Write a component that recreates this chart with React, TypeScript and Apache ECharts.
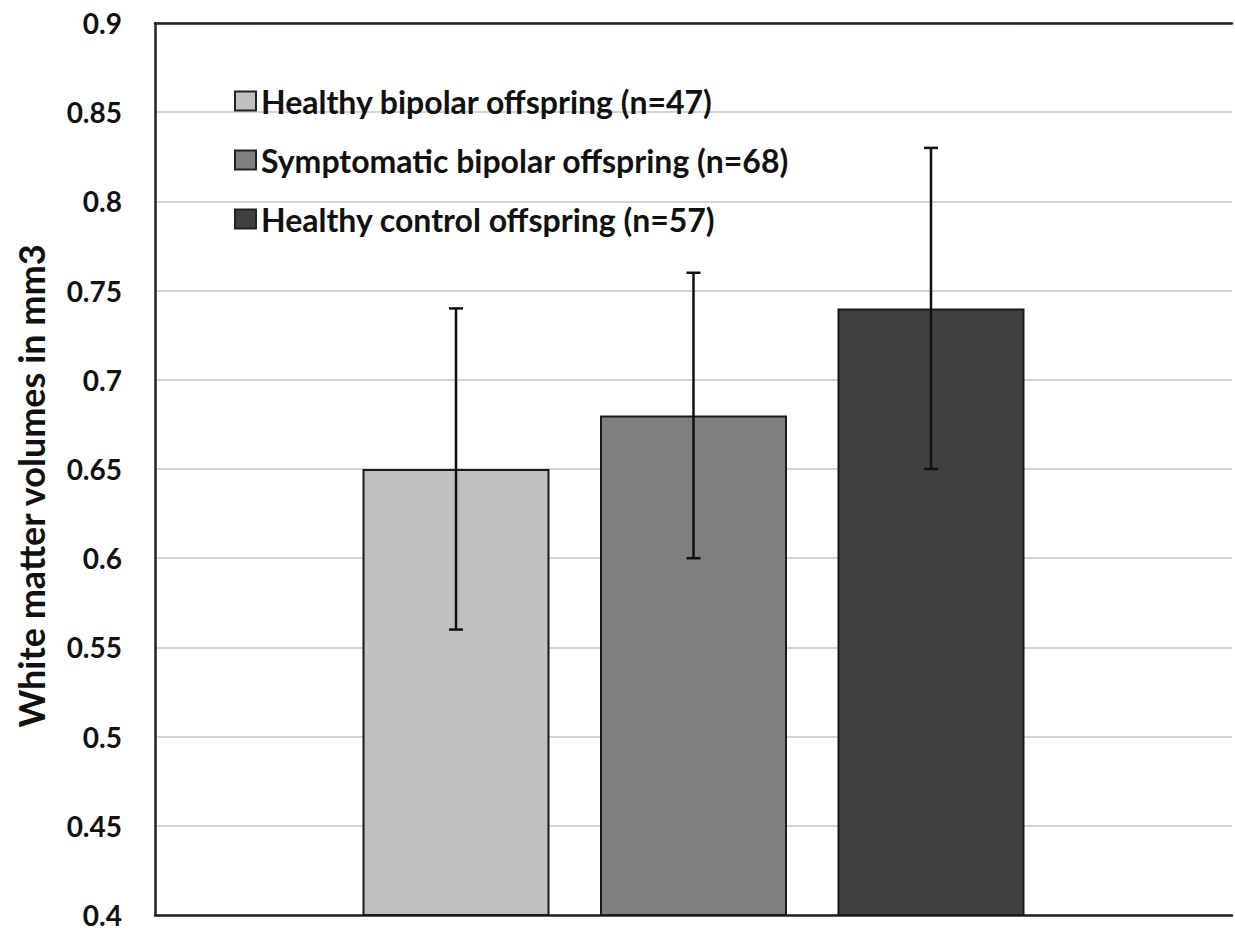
import React, { useEffect, useRef } from "react";
import * as echarts from "echarts";

const seriesNames = [
  "Healthy bipolar offspring (n=47)",
  "Symptomatic bipolar offspring (n=68)",
  "Healthy control offspring (n=57)",
];
const means = [0.65, 0.68, 0.74];
const errLow = [0.56, 0.6, 0.65];
const errHigh = [0.74, 0.76, 0.83];
const colors = ["#c0c0c0", "#7f7f7f", "#404040"];
const categories = [""];

const FONT = "Lato";
const BAR_WIDTH = 187;
const BAR_GAP = "27%";

export default function App() {
  const ref = useRef<HTMLDivElement>(null);
  useEffect(() => {
    if (!ref.current) return;
    const chart = echarts.init(ref.current, null, { renderer: "svg" });
    const barSeries = seriesNames.map((name, i) => ({
      name,
      type: "bar",
      data: [means[i]],
      barWidth: BAR_WIDTH,
      barGap: BAR_GAP,
      itemStyle: { color: colors[i], borderColor: "#1a1a1a", borderWidth: 2 },
      emphasis: { disabled: true },
    }));
    const errData = seriesNames.map((_, i) => [0, i, errLow[i], errHigh[i]]);
    const option = {
      animation: false,
      backgroundColor: "#ffffff",
      textStyle: { fontFamily: FONT },
      grid: { left: 155, right: 3, top: 23, bottom: 16, containLabel: false },
      legend: {
        orient: "vertical",
        left: 229,
        top: 80,
        itemWidth: 21,
        itemHeight: 19,
        itemGap: 27,
        icon: "rect",
        itemStyle: { borderColor: "#222", borderWidth: 2 },
        textStyle: { fontFamily: FONT, fontWeight: "bold", fontSize: 32, color: "#111" },
        data: seriesNames,
      },
      xAxis: [
        {
          type: "category",
          data: categories,
          axisLine: { show: true, lineStyle: { color: "#222", width: 2.5 } },
          axisTick: { show: false },
          axisLabel: { show: false },
        },
        {
          type: "category",
          data: categories,
          position: "top",
          axisLine: { show: true, lineStyle: { color: "#222", width: 2.5 } },
          axisTick: { show: false },
          axisLabel: { show: false },
        },
      ],
      yAxis: {
        type: "value",
        min: 0.4,
        max: 0.9,
        interval: 0.05,
        name: "White matter volumes in mm3",
        nameLocation: "middle",
        nameGap: 106,
        nameRotate: 90,
        nameTextStyle: {
          fontFamily: FONT,
          fontWeight: "bold",
          fontSize: 36,
          color: "#111",
          padding: [0, 34, 0, 0],
        },
        axisLine: { show: true, lineStyle: { color: "#222", width: 2.5 } },
        axisTick: { show: false },
        axisLabel: {
          fontFamily: FONT,
          fontWeight: "bold",
          fontSize: 28,
          color: "#111",
          margin: 33,
          formatter: (v: number) => String(parseFloat(v.toFixed(2))),
        },
        splitLine: { show: true, lineStyle: { color: "#d4d4d4", width: 2 } },
      },
      series: [
        ...barSeries,
        {
          type: "custom",
          name: "err",
          data: errData,
          encode: { x: 0, y: [2, 3] },
          z: 10,
          silent: true,
          renderItem: (params: any, api: any) => {
            const cat = api.value(0);
            const idx = api.value(1);
            const lo = api.coord([cat, api.value(2)]);
            const hi = api.coord([cat, api.value(3)]);
            const layout = api.barLayout({ count: 3, barWidth: BAR_WIDTH, barGap: BAR_GAP });
            const x = lo[0] + layout[idx].offsetCenter;
            const cap = 7;
            const style = { stroke: "#111", lineWidth: 2.5, fill: null };
            return {
              type: "group",
              children: [
                { type: "line", shape: { x1: x, y1: lo[1], x2: x, y2: hi[1] }, style },
                { type: "line", shape: { x1: x - cap, y1: lo[1], x2: x + cap, y2: lo[1] }, style },
                { type: "line", shape: { x1: x - cap, y1: hi[1], x2: x + cap, y2: hi[1] }, style },
              ],
            };
          },
        },
      ],
    };
    chart.setOption(option as any);
    return () => chart.dispose();
  }, []);
  return (
    <div
      ref={ref}
      style={{ position: "fixed", left: 0, top: 0, width: 1235, height: 931, background: "#fff" }}
    />
  );
}
